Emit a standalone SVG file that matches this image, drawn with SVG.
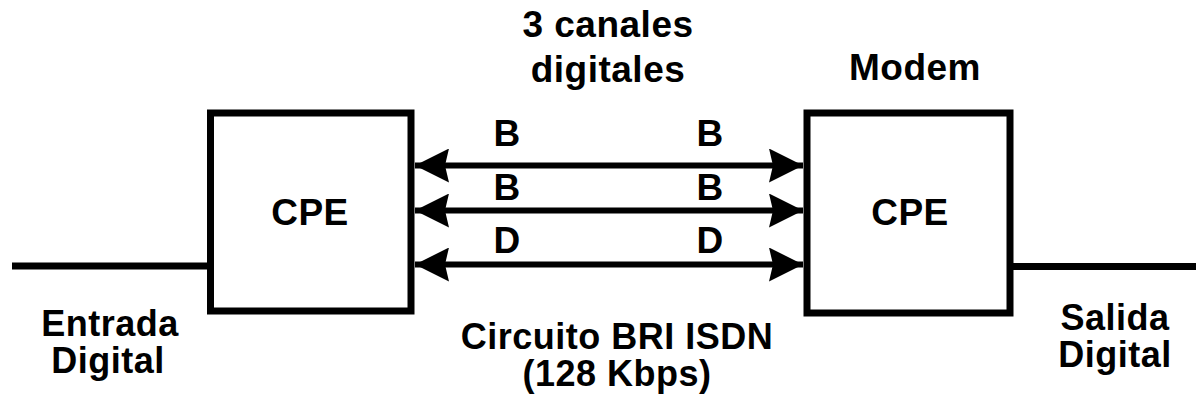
<svg xmlns="http://www.w3.org/2000/svg" width="1196" height="402" viewBox="0 0 1196 402">
<style>
text{font-family:"Liberation Sans",Arial,sans-serif;font-weight:bold;font-size:37px;fill:#000;text-anchor:middle;letter-spacing:0.5px}
.sm{font-size:36px}
.box{fill:#fff;stroke:#000;stroke-width:7}
.wire{stroke:#000;stroke-width:7;fill:none}
.link{stroke:#000;stroke-width:6;fill:none;marker-start:url(#ah);marker-end:url(#ah)}
</style>
<defs>
<marker id="ah" viewBox="0 0 36 34" refX="34" refY="17" markerWidth="36" markerHeight="34" markerUnits="userSpaceOnUse" orient="auto-start-reverse">
<path d="M0,0 L34,17 L0,34 L4,17 Z" fill="#000"/>
</marker>
</defs>
<rect width="1196" height="402" fill="#fff"/>
<g id="connectors">
<line class="wire" x1="12" y1="266" x2="210" y2="266"/>
<line class="wire" x1="1010" y1="266.5" x2="1196" y2="266.5"/>
<line class="link" x1="415" y1="165.5" x2="803" y2="165.5"/>
<line class="link" x1="415" y1="210.5" x2="803" y2="210.5"/>
<line class="link" x1="415" y1="264.5" x2="803" y2="264.5"/>
</g>
<g id="cpe-left">
<rect class="box" x="210.5" y="113" width="200.5" height="198"/>
<text x="310" y="225">CPE</text>
</g>
<g id="cpe-right">
<rect class="box" x="807" y="113" width="203" height="200"/>
<text x="910" y="225">CPE</text>
</g>
<g id="labels">
<text x="608" y="37">3 canales</text>
<text x="608" y="82">digitales</text>
<text x="915" y="80">Modem</text>
<text x="507" y="146">B</text>
<text x="710" y="146">B</text>
<text x="507" y="200">B</text>
<text x="710" y="200">B</text>
<text x="507" y="253">D</text>
<text x="710" y="253">D</text>
<text class="sm" x="110" y="336">Entrada</text>
<text class="sm" x="108" y="373">Digital</text>
<text class="sm" x="1115" y="330">Salida</text>
<text class="sm" x="1115" y="367">Digital</text>
<text class="sm" x="617" y="349">Circuito BRI ISDN</text>
<text class="sm" x="617" y="386">(128 Kbps)</text>
</g>
</svg>
